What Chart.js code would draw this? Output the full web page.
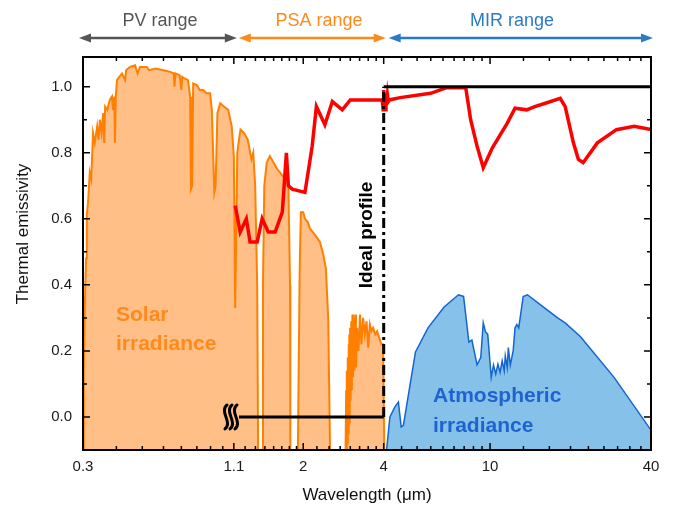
<!DOCTYPE html>
<html>
<head>
<meta charset="utf-8">
<script src="https://cdn.jsdelivr.net/npm/chart.js@4.4.1/dist/chart.umd.min.js"></script>
<style>
  body { margin: 0; background: #fff; }
  #wrap { width: 673px; height: 506px; }
</style>
</head>
<body>
<div id="wrap"><canvas id="chart" width="673" height="506"></canvas></div>
<script>
// axis ticks
const xMajor = [0.3, 1.1, 2, 4, 10, 40];
const xMinorCount = [7, 7, 7, 8, 8]; // minor ticks between each pair of majors
const yMajor = [0, 0.2, 0.4, 0.6, 0.8, 1.0];
const yMinor = [0.1, 0.3, 0.5, 0.7, 0.9];

// solar irradiance (normalised), wavelength in um
const solarWl = [
  0.300, 0.302, 0.305, 0.308, 0.310, 0.314, 0.318, 0.322, 0.327, 0.332,
  0.339, 0.343, 0.347, 0.352, 0.357, 0.360, 0.363, 0.370, 0.378, 0.385,
  0.388, 0.393, 0.395, 0.398, 0.402, 0.410, 0.420, 0.431, 0.435, 0.450,
  0.470, 0.480, 0.490, 0.520, 0.530, 0.560, 0.600, 0.636, 0.656, 0.660,
  0.665, 0.690, 0.700, 0.705, 0.720, 0.741, 0.755, 0.760, 0.768, 0.775,
  0.800, 0.820, 0.844, 0.870, 0.897, 0.910, 0.930, 0.940, 0.955, 0.978,
  1.010, 1.048, 1.080, 1.100, 1.113, 1.125, 1.133, 1.150, 1.165, 1.200,
  1.240, 1.280, 1.300, 1.322, 1.345, 1.356, 1.404, 1.414, 1.430, 1.460,
  1.500, 1.550, 1.600, 1.640, 1.710, 1.760, 1.785, 1.790, 1.910, 1.940,
  1.960, 2.000, 2.030, 2.080, 2.120, 2.220, 2.310, 2.380, 2.430, 2.480,
  2.520, 2.880, 2.895, 2.905, 2.915, 2.925, 2.935, 2.945, 2.955, 2.965,
  2.975, 2.985, 2.995, 3.010, 3.025, 3.040, 3.055, 3.070, 3.090, 3.110,
  3.130, 3.150, 3.180, 3.220, 3.260, 3.300, 3.350, 3.400, 3.450, 3.500,
  3.550, 3.600, 3.650, 3.720, 3.780, 3.850, 3.920, 3.980, 4.020
];
const solarVal = [
  -0.10, 0.15, 0.35, 0.48, 0.61, 0.66, 0.74, 0.72, 0.86, 0.83,
  0.88, 0.84, 0.90, 0.86, 0.92, 0.83, 0.94, 0.93, 0.96, 0.97,
  0.93, 0.97, 0.83, 0.97, 1.02, 1.03, 1.04, 1.02, 1.05, 1.06,
  1.065, 1.04, 1.06, 1.06, 1.05, 1.055, 1.05, 1.045, 1.04, 1.00,
  1.04, 1.035, 0.99, 1.03, 1.025, 1.02, 0.97, 0.69, 0.70, 1.01,
  1.005, 0.99, 0.99, 0.98, 0.98, 0.93, 0.68, 0.70, 0.92, 0.95,
  0.94, 0.93, 0.88, 0.79, 0.33, 0.60, 0.80, 0.84, 0.87, 0.86,
  0.84, 0.78, 0.80, 0.70, 0.40, -0.10, -0.10, 0.40, 0.70, 0.77,
  0.79, 0.77, 0.75, 0.74, 0.72, 0.70, 0.40, -0.10, -0.10, 0.45,
  0.62, 0.62, 0.60, 0.59, 0.57, 0.55, 0.53, 0.49, 0.45, 0.30,
  -0.10, -0.10, 0.08, -0.10, 0.14, -0.08, 0.18, -0.05, 0.22, 0.00,
  0.25, -0.02, 0.27, 0.05, 0.29, 0.08, 0.31, 0.12, 0.30, 0.14,
  0.31, 0.15, 0.27, 0.20, 0.31, 0.22, 0.30, 0.25, 0.29, 0.21,
  0.28, 0.26, 0.27, 0.25, 0.26, 0.24, 0.22, 0.22, -0.10
];

// atmospheric irradiance (normalised)
const atmWl = [
  4.10, 4.22, 4.40, 4.54, 4.65, 4.74, 5.26, 5.86, 6.73, 7.62,
  7.96, 8.33, 8.55, 8.94, 9.23, 9.43, 9.61, 9.80, 10.1, 10.3,
  10.5, 10.7, 10.9, 11.1, 11.3, 11.4, 11.6, 11.7, 11.9, 12.2,
  12.4, 12.6, 12.8, 13.3, 13.8, 15.4, 17.9, 19.1, 21.8, 29.1, 40
];
const atmVal = [
  -0.10, 0.00, 0.03, 0.045, -0.03, -0.025, 0.197, 0.27, 0.333, 0.37,
  0.365, 0.227, 0.233, 0.158, 0.18, 0.285, 0.258, 0.25, 0.12, 0.157,
  0.13, 0.16, 0.135, 0.17, 0.14, 0.185, 0.15, 0.21, 0.157, 0.20,
  0.27, 0.28, 0.27, 0.365, 0.37, 0.34, 0.30, 0.285, 0.243, 0.12, -0.04
];

// measured thermal emissivity
const emisWl = [
  1.113, 1.162, 1.225, 1.265, 1.345, 1.404, 1.48, 1.57, 1.67, 1.73,
  1.76, 1.82, 2.03, 2.16, 2.24, 2.41, 2.57, 2.80, 3.00, 3.95,
  3.98, 4.00, 4.02, 4.04, 4.06, 4.08, 4.10, 4.13, 4.16, 4.20,
  4.61, 5.99, 6.88, 8.11, 8.46, 8.94, 9.43, 10.2, 11.6, 12.4,
  13.7, 14.7, 16.1, 18.3, 19.1, 20.5, 21.4, 22.3, 25.2, 29.7,
  34.6, 40
];
const emisVal = [
  0.64, 0.56, 0.60, 0.53, 0.53, 0.60, 0.56, 0.56, 0.62, 0.80,
  0.70, 0.69, 0.68, 0.82, 0.94, 0.885, 0.955, 0.93, 0.96, 0.96,
  0.93, 0.99, 0.94, 0.98, 0.93, 0.97, 0.95, 0.975, 0.955, 0.96,
  0.967, 0.98, 0.997, 0.997, 0.90, 0.82, 0.755, 0.815, 0.89, 0.935,
  0.93, 0.94, 0.95, 0.965, 0.94, 0.83, 0.78, 0.77, 0.83, 0.87,
  0.88, 0.87
];

// ideal profile
const idealWl = [1.15, 4, 4, 40];
const idealVal = [0, 0, 1.0, 1.0];

const pts = (xs, ys) => xs.map((x, i) => ({ x: x, y: ys[i] }));

const FONT = "'Liberation Sans', Arial, sans-serif";

function xMinorTicks() {
  const out = [];
  for (let i = 0; i < xMajor.length - 1; i++) {
    const a = xMajor[i], b = xMajor[i + 1], n = xMinorCount[i];
    for (let k = 1; k <= n; k++) out.push(a + (b - a) * k / (n + 1));
  }
  return out;
}

function arrow(ctx, x1, x2, y, color) {
  ctx.save();
  ctx.strokeStyle = color;
  ctx.fillStyle = color;
  ctx.lineWidth = 2.5;
  ctx.beginPath();
  ctx.moveTo(x1 + 8, y);
  ctx.lineTo(x2 - 8, y);
  ctx.stroke();
  ctx.beginPath();
  ctx.moveTo(x1, y); ctx.lineTo(x1 + 12, y - 4.5); ctx.lineTo(x1 + 12, y + 4.5); ctx.closePath();
  ctx.fill();
  ctx.beginPath();
  ctx.moveTo(x2, y); ctx.lineTo(x2 - 12, y - 4.5); ctx.lineTo(x2 - 12, y + 4.5); ctx.closePath();
  ctx.fill();
  ctx.restore();
}

const annot = {
  id: "annot",
  afterDatasetsDraw(chart) {
    const { ctx, chartArea: a, scales: { x, y } } = chart;
    ctx.save();

    // inward ticks on all four sides
    ctx.strokeStyle = "#000";
    ctx.lineWidth = 1.5;
    const xt = (v, len) => {
      const px = x.getPixelForValue(v);
      ctx.beginPath();
      ctx.moveTo(px, a.bottom); ctx.lineTo(px, a.bottom - len);
      ctx.moveTo(px, a.top); ctx.lineTo(px, a.top + len);
      ctx.stroke();
    };
    const yt = (v, len) => {
      const py = y.getPixelForValue(v);
      ctx.beginPath();
      ctx.moveTo(a.left, py); ctx.lineTo(a.left + len, py);
      ctx.moveTo(a.right, py); ctx.lineTo(a.right - len, py);
      ctx.stroke();
    };
    xMajor.forEach(v => xt(v, 7));
    xMinorTicks().forEach(v => xt(v, 4));
    yMajor.forEach(v => yt(v, 7));
    yMinor.forEach(v => yt(v, 4));

    // frame
    ctx.lineWidth = 2;
    ctx.strokeRect(a.left, a.top, a.right - a.left, a.bottom - a.top);

    // axis break symbol before the ideal profile
    const bx = x.getPixelForValue(1.15) - 8, by = y.getPixelForValue(0);
    ctx.lineWidth = 3;
    ctx.lineCap = "round";
    [-5, 0, 5].forEach(dx => {
      const cx = bx + dx;
      ctx.beginPath();
      ctx.moveTo(cx + 1, by - 12);
      ctx.bezierCurveTo(cx - 7, by - 5, cx + 7, by + 5, cx - 1, by + 12);
      ctx.stroke();
    });
    ctx.lineCap = "butt";

    // text labels in the plot
    ctx.textBaseline = "alphabetic";
    ctx.textAlign = "left";
    ctx.font = "bold 21px " + FONT;
    ctx.fillStyle = "#FF8A1C";
    ctx.fillText("Solar", 116, 321);
    ctx.fillText("irradiance", 116, 350);
    ctx.fillStyle = "#1E63CF";
    ctx.fillText("Atmospheric", 433, 402);
    ctx.fillText("irradiance", 433, 432);

    ctx.save();
    ctx.translate(372, 235);
    ctx.rotate(-Math.PI / 2);
    ctx.textAlign = "center";
    ctx.fillStyle = "#000";
    ctx.font = "bold 19px " + FONT;
    ctx.fillText("Ideal profile", 0, 0);
    ctx.restore();

    // axis titles
    ctx.fillStyle = "#111";
    ctx.font = "17px " + FONT;
    ctx.textAlign = "center";
    ctx.fillText("Wavelength (\u03bcm)", (a.left + a.right) / 2, 500);
    ctx.save();
    ctx.translate(28, 234);
    ctx.rotate(-Math.PI / 2);
    ctx.fillText("Thermal emissivity", 0, 0);
    ctx.restore();

    // spectral ranges above the plot
    const p03 = x.getPixelForValue(0.3), p11 = x.getPixelForValue(1.1);
    const p4 = x.getPixelForValue(4), p40 = x.getPixelForValue(40);
    arrow(ctx, p03 - 4, p11 + 3, 38, "#555555");
    arrow(ctx, p11 + 5, p4 + 2, 38, "#FF8A1C");
    arrow(ctx, p4 + 5, p40 + 2, 38, "#2B7BC4");
    ctx.font = "18px " + FONT;
    ctx.fillStyle = "#555555";
    ctx.fillText("PV range", 160, 26);
    ctx.fillStyle = "#FF8A1C";
    ctx.fillText("PSA range", 319, 26);
    ctx.fillStyle = "#2B7BC4";
    ctx.fillText("MIR range", 512, 26);

    ctx.restore();
  }
};

const ctx = document.getElementById("chart").getContext("2d");
new Chart(ctx, {
  type: "line",
  data: {
    datasets: [
      {
        label: "Ideal profile",
        data: pts(idealWl, idealVal),
        borderColor: "#000",
        borderWidth: 3,
        pointRadius: 0,
        fill: false,
        order: 1,
        segment: {
          borderDash: c => (c.p0.parsed.x === c.p1.parsed.x ? [10, 4, 3, 4] : undefined)
        }
      },
      {
        label: "Emissivity",
        data: pts(emisWl, emisVal),
        borderColor: "#FF0000",
        borderWidth: 3.5,
        pointRadius: 0,
        fill: false,
        order: 2
      },
      {
        label: "Atmospheric irradiance",
        data: pts(atmWl, atmVal),
        borderColor: "#1565D0",
        backgroundColor: "#86C1EA",
        borderWidth: 1.5,
        pointRadius: 0,
        fill: "start",
        order: 3
      },
      {
        label: "Solar irradiance",
        data: pts(solarWl, solarVal),
        borderColor: "#FF8000",
        backgroundColor: "#FFBF86",
        borderWidth: 2,
        pointRadius: 0,
        fill: "start",
        order: 4
      }
    ]
  },
  options: {
    responsive: false,
    animation: false,
    layout: { padding: { left: 0, right: 22, top: 57, bottom: 0 } },
    plugins: { legend: { display: false }, tooltip: { enabled: false } },
    scales: {
      x: {
        type: "logarithmic",
        min: 0.3,
        max: 40,
        grid: { display: false, drawTicks: false },
        border: { display: false },
        afterBuildTicks: s => { s.ticks = xMajor.map(v => ({ value: v })); },
        afterFit: s => { s.height = 56; },
        ticks: {
          padding: 8,
          autoSkip: false,
          maxRotation: 0,
          color: "#1a1a1a",
          font: { family: FONT, size: 15 },
          callback: v => String(v)
        }
      },
      y: {
        min: -0.1,
        max: 1.09,
        grid: { display: false, drawTicks: false },
        border: { display: false },
        afterBuildTicks: s => { s.ticks = yMajor.map(v => ({ value: v })); },
        afterFit: s => { s.width = 83; },
        ticks: {
          padding: 11,
          color: "#1a1a1a",
          font: { family: FONT, size: 15 },
          callback: v => Number(v).toFixed(1)
        }
      }
    }
  },
  plugins: [annot]
});
</script>
</body>
</html>
